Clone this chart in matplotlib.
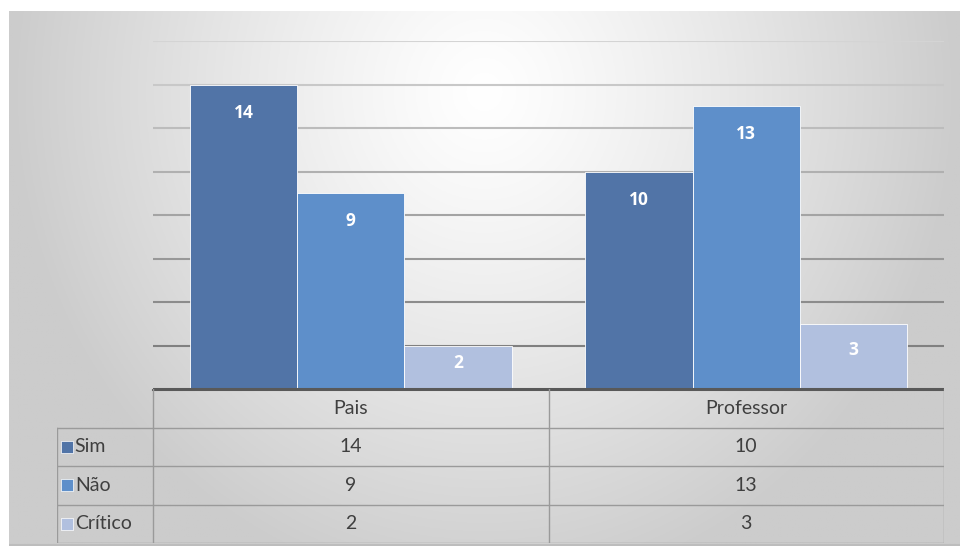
import numpy as np
import matplotlib.pyplot as plt

categories = ['Pais', 'Professor']
series = ['Sim', 'Não', 'Crítico']
values = {
    'Sim': [14, 10],
    'Não': [9, 13],
    'Crítico': [2, 3],
}
colors = {'Sim': '#5174a7', 'Não': '#5e8fca', 'Crítico': '#b1c0df'}

plt.rcParams['font.family'] = ['Lato', 'DejaVu Sans']

W, H = 960, 546
fig = plt.figure(figsize=(W / 100, H / 100), dpi=100)
fig.patch.set_facecolor('white')

# gradient background of the chart frame
bg = fig.add_axes([9 / W, 0, 1 - 9 / W, 1 - 11 / H])
xx, yy = np.meshgrid(np.linspace(0, 1, 400), np.linspace(0, 1, 300))
d = np.sqrt(((xx - 0.5) / 0.5) ** 2 + ((yy - 0.15) / 0.95) ** 2)
g = 1 - 0.2 * np.clip(d, 0, 1) ** 1.2
bg.imshow(np.dstack([g, g, g]), aspect='auto', extent=[0, 1, 1, 0])
bg.set_axis_off()
bg.plot([0, 1], [0.002, 0.002], color='#bdbdbd', lw=1.5, transform=bg.transAxes)

# bar area
x0, x1 = 153 / W, 944 / W
ax = fig.add_axes([x0, 1 - 389 / H, x1 - x0, (389 - 41) / H])
ax.set_xlim(-0.5, len(categories) - 0.5)
ax.set_ylim(0, 16)
ax.patch.set_alpha(0)
for s in ax.spines.values():
    s.set_visible(False)
ax.set_xticks([])
ax.set_yticks([])

levels = np.arange(2, 17, 2)
for lv in levels:
    t = (lv - 2) / 14
    c = 0.50 + 0.33 * t
    ax.axhline(lv, color=(c, c, c), lw=1.5, zorder=1)
ax.axhline(0, color='#595959', lw=2.2, zorder=4)

w = 0.271
x = np.arange(len(categories))
for i, s in enumerate(series):
    xs = x + (i - 1) * w
    ax.bar(xs, values[s], width=w, color=colors[s], edgecolor='white',
           linewidth=0.6, zorder=3)
    for xi, v in zip(xs, values[s]):
        ax.text(xi, v - min(1.29, v * 0.4), str(v), ha='center', va='center',
                color='white', fontsize=12.5, fontweight='bold',
                family=['Open Sans', 'DejaVu Sans'], zorder=5)

# data table
tx0 = 57 / W
tab = fig.add_axes([tx0, 1 - 543 / H, x1 - tx0, (543 - 389) / H])
lab_w = (x0 - tx0) / (x1 - x0) * len(categories)
left = -0.5 - lab_w
tab.set_xlim(left, len(categories) - 0.5)
tab.set_ylim(len(series) + 1, 0)
tab.set_axis_off()
tab.patch.set_alpha(0)

lc = '#9a9a9a'
nrow = len(series) + 1
# horizontal lines
tab.plot([-0.5, len(categories) - 0.5], [0, 0], color='#595959', lw=2.2)
for r in range(1, nrow + 1):
    tab.plot([left, len(categories) - 0.5], [r, r], color=lc, lw=1)
# vertical lines
tab.plot([left, left], [1, nrow], color=lc, lw=1)
for b in np.arange(len(categories) + 1) - 0.5:
    tab.plot([b, b], [0, nrow], color=lc, lw=1)

fs = 14
tc = '#3f3f3f'
for j, c in enumerate(categories):
    tab.text(j, 0.5, c, ha='center', va='center', fontsize=fs, color=tc)
for i, s in enumerate(series):
    tab.text(left + 0.045, i + 1.5, s, ha='left', va='center', fontsize=fs, color=tc)
    tab.scatter([left + 0.025], [i + 1.5], marker='s', s=75, color=colors[s],
                edgecolor='white', linewidth=0.5)
    for j, v in enumerate(values[s]):
        tab.text(j, i + 1.5, str(v), ha='center', va='center', fontsize=fs, color=tc)

fig.savefig('out.png', dpi=100)
